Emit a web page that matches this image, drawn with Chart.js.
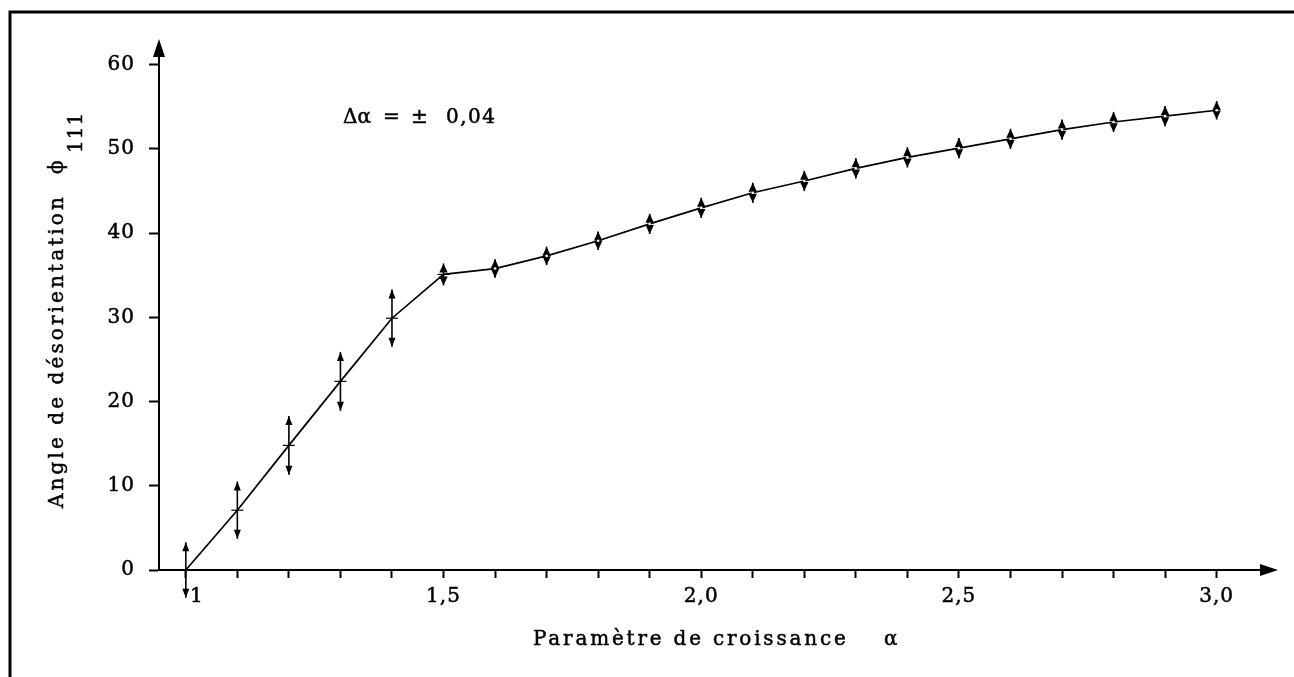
<!DOCTYPE html>
<html>
<head>
<meta charset="utf-8">
<script src="https://cdn.jsdelivr.net/npm/chart.js@4"></script>
<style>
  html, body { margin: 0; padding: 0; background: #fff; }
  #wrap { width: 1294px; height: 677px; position: relative; }
</style>
</head>
<body>
<div id="wrap"><canvas id="chart"></canvas></div>
<script>
// growth parameter alpha and misorientation angle phi111
const alpha = [1.0, 1.1, 1.2, 1.3, 1.4, 1.5, 1.6, 1.7, 1.8, 1.9, 2.0,
               2.1, 2.2, 2.3, 2.4, 2.5, 2.6, 2.7, 2.8, 2.9, 3.0];
const phi = [0, 7.1, 14.8, 22.4, 29.9, 35.1, 35.8, 37.3, 39.1, 41.1, 43.0,
             44.8, 46.2, 47.7, 49.0, 50.1, 51.2, 52.3, 53.2, 53.9, 54.6];
const phiErr = [3.3, 3.4, 3.5, 3.5, 3.4, 1.3, 1.1, 1.1, 1.1, 1.2, 1.2,
                1.2, 1.2, 1.2, 1.2, 1.2, 1.2, 1.2, 1.2, 1.2, 1.1];

const xTicks = alpha;
// label "1" sits just right of the arrow in the original
const xTickLabels = ["   1", "", "", "", "", "1,5", "", "", "", "", "2,0",
                     "", "", "", "", "2,5", "", "", "", "", "3,0"];
const yTicks = [0, 10, 20, 30, 40, 50, 60];

const INK = "#000";
const SERIF = "'DejaVu Serif', 'Liberation Serif', serif";

Chart.defaults.font.family = SERIF;
Chart.defaults.color = INK;

// outer frame + letter spacing for tick labels
const frame = {
  id: "frame",
  beforeDraw(chart) {
    const ctx = chart.ctx;
    ctx.save();
    ctx.strokeStyle = INK;
    ctx.lineWidth = 3;
    ctx.beginPath();
    ctx.moveTo(10, 700);
    ctx.lineTo(10, 12);
    ctx.lineTo(1300, 12);
    ctx.stroke();
    ctx.restore();
    ctx.letterSpacing = "1px";
  },
};

// vertical double arrows at each point
const errorArrows = {
  id: "errorArrows",
  afterDatasetsDraw(chart) {
    const { ctx, scales: { x, y } } = chart;
    const head = (px, tip, dir, w, len) => {
      ctx.beginPath();
      ctx.moveTo(px, tip);
      ctx.lineTo(px - w, tip - dir * len);
      ctx.lineTo(px + w, tip - dir * len);
      ctx.closePath();
      ctx.fill();
    };
    ctx.save();
    ctx.strokeStyle = INK;
    ctx.fillStyle = INK;
    ctx.lineWidth = 1.6;
    alpha.forEach((a, i) => {
      const px = x.getPixelForValue(a);
      const top = y.getPixelForValue(phi[i] + phiErr[i]);
      const bot = y.getPixelForValue(phi[i] - phiErr[i]);
      const small = i >= 5;
      ctx.beginPath();
      ctx.moveTo(px, top);
      ctx.lineTo(px, bot);
      ctx.stroke();
      head(px, top, -1, small ? 4.2 : 3.5, 9);
      head(px, bot, 1, small ? 4.2 : 3.5, 9);
    });
    ctx.fillStyle = "#fff";
    alpha.forEach((a, i) => {
      if (i < 6) return;
      ctx.beginPath();
      ctx.arc(x.getPixelForValue(a), y.getPixelForValue(phi[i]), 1.3, 0, Math.PI * 2);
      ctx.fill();
    });
    ctx.restore();
  },
};

// axis arrows, titles and note
const decorations = {
  id: "decorations",
  afterDraw(chart) {
    const { ctx, chartArea: area, scales: { y } } = chart;
    const y0 = y.getPixelForValue(0);
    ctx.save();
    ctx.fillStyle = INK;
    ctx.strokeStyle = INK;
    ctx.lineWidth = 0.5;
    const text = (s, tx, ty) => {
      ctx.fillText(s, tx, ty);
      ctx.strokeText(s, tx, ty);
    };

    // x axis arrow
    ctx.beginPath();
    ctx.moveTo(area.right + 16, y0);
    ctx.lineTo(area.right - 2, y0 - 6);
    ctx.lineTo(area.right - 2, y0 + 6);
    ctx.closePath();
    ctx.fill();

    // y axis arrow
    ctx.beginPath();
    ctx.moveTo(area.left, area.top - 16);
    ctx.lineTo(area.left - 6, area.top + 2);
    ctx.lineTo(area.left + 6, area.top + 2);
    ctx.closePath();
    ctx.fill();

    ctx.textAlign = "left";
    ctx.textBaseline = "alphabetic";

    // x title
    ctx.font = "20px " + SERIF;
    ctx.letterSpacing = "2.8px";
    text("Paramètre de croissance", 533, 645);
    text("α", 884, 645);

    // note
    ctx.font = "20px " + SERIF;
    ctx.letterSpacing = "0px";
    text("Δα", 343, 123);
    text("=", 383, 123);
    text("±", 411, 123);
    ctx.letterSpacing = "1.5px";
    text("0,04", 446, 123);

    // y title
    ctx.save();
    ctx.translate(63, 508);
    ctx.rotate(-Math.PI / 2);
    ctx.font = "20px " + SERIF;
    ctx.letterSpacing = "3.1px";
    text("Angle de désorientation", 0, 0);
    ctx.letterSpacing = "0px";
    text("ϕ", 334, 0);
    ctx.letterSpacing = "1px";
    text("111", 355, 19);
    ctx.restore();

    ctx.restore();
  },
};

new Chart(document.getElementById("chart"), {
  type: "line",
  data: {
    datasets: [
      {
        label: "phi111",
        data: alpha.map((a, i) => ({ x: a, y: phi[i] })),
        borderColor: INK,
        borderWidth: 1.7,
        tension: 0,
        pointStyle: "line",
        pointRadius: alpha.map((a, i) => (i > 0 && i < 6 ? 6 : 0)),
        pointBorderColor: INK,
        pointBorderWidth: 1.2,
        clip: false,
      },
    ],
  },
  options: {
    responsive: true,
    maintainAspectRatio: false,
    animation: false,
    layout: {
      padding: { top: 55, right: 32, left: 0, bottom: 0 },
    },
    plugins: {
      legend: { display: false },
      tooltip: { enabled: false },
    },
    scales: {
      x: {
        type: "linear",
        min: 0.948,
        max: 3.088,
        afterBuildTicks: (s) => {
          s.ticks = xTicks.map((v) => ({ value: v }));
        },
        afterFit: (s) => {
          s.height = 107;
        },
        ticks: {
          autoSkip: false,
          maxRotation: 0,
          padding: 7,
          font: { size: 20 },
          color: INK,
          textStrokeColor: INK,
          textStrokeWidth: 0.5,
          callback: (v, i) => xTickLabels[i],
        },
        grid: {
          drawOnChartArea: false,
          tickLength: 8,
          tickWidth: 2,
          tickColor: INK,
        },
        border: { color: INK, width: 2 },
      },
      y: {
        min: 0,
        max: 61.16,
        afterBuildTicks: (s) => {
          s.ticks = yTicks.map((v) => ({ value: v }));
        },
        afterFit: (s) => {
          s.width = 159;
        },
        ticks: {
          padding: 14,
          font: { size: 20 },
          color: INK,
          textStrokeColor: INK,
          textStrokeWidth: 0.5,
        },
        grid: {
          drawOnChartArea: false,
          tickLength: 10,
          tickWidth: 2,
          tickColor: INK,
        },
        border: { color: INK, width: 2 },
      },
    },
  },
  plugins: [frame, errorArrows, decorations],
});
</script>
</body>
</html>
